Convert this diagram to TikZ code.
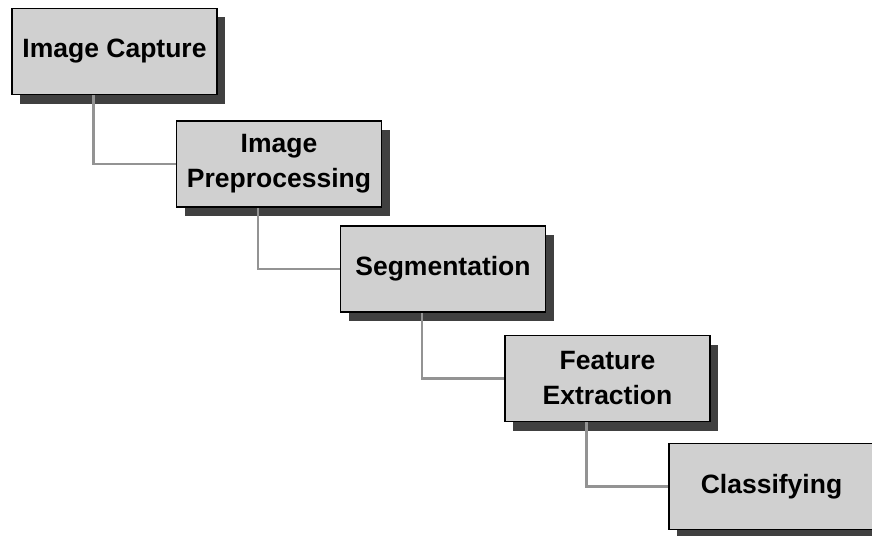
\documentclass[tikz,border=0pt]{standalone}
\usepackage{fontspec}
\setmainfont{Liberation Sans}
\usetikzlibrary{shadows}
\definecolor{boxfill}{HTML}{D0D0D0}
\definecolor{shadowgray}{HTML}{404040}
\definecolor{linkgray}{HTML}{939393}
\tikzset{
  stage/.style={draw=black, line width=1.5pt, fill=boxfill,
    minimum width=205pt, minimum height=86pt, inner sep=0pt,
    align=center, font=\fontsize{26.5}{35}\selectfont\bfseries,
    drop shadow={shadow xshift=8pt, shadow yshift=-9pt, fill=shadowgray, opacity=1}},
  link/.style={draw=linkgray, line width=2.6pt}
}
\begin{document}
\begin{tikzpicture}[x=1pt, y=-1pt]
  \useasboundingbox (0,0) rectangle (872,535);
  \clip (0,0) rectangle (872,535);
  % pipeline stages, stepping down to the right
  \node[stage] (capture) at (114.5,51.5) {Image Capture};
  \node[stage] (prep)    at (279,164)    {Image\\Preprocessing};
  \node[stage] (seg)     at (443,269)    {Segmentation};
  \node[stage] (feat)    at (607.5,378.5) {Feature\\Extraction};
  \node[stage] (cls)     at (771.5,486.5) {Classifying};
  % elbow links from each stage to the next
  \draw[link] ([xshift=-21pt]capture.south) |- (prep.west);
  \draw[link] ([xshift=-21pt]prep.south)    |- (seg.west);
  \draw[link] ([xshift=-21pt]seg.south)     |- (feat.west);
  \draw[link] ([xshift=-21pt]feat.south)    |- (cls.west);
\end{tikzpicture}
\end{document}
